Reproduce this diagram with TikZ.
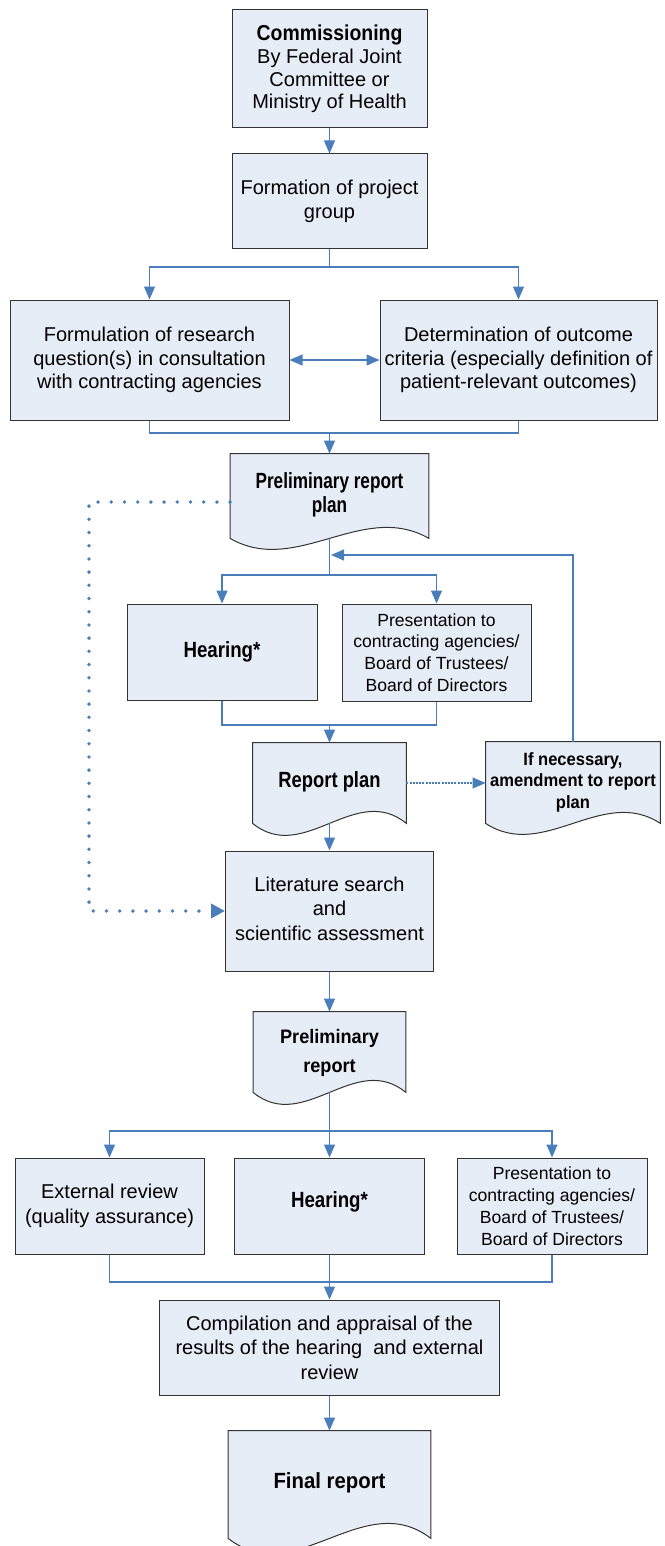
\documentclass[tikz,border=0pt]{standalone}
\usepackage{fontspec}
\setmainfont{Liberation Sans}
\usepackage{graphicx}
\usetikzlibrary{arrows.meta,calc,backgrounds}
\definecolor{boxfill}{HTML}{E7EDF7}
\definecolor{boxline}{HTML}{333333}
\definecolor{linecol}{HTML}{4A7EBB}
\newcommand\sqz[2]{\scalebox{#1}[1]{\begin{tabular}{@{}c@{}}#2\end{tabular}}}
\newcommand\docshape[2]{%
  \begin{pgfonlayer}{background}
  \filldraw[docdraw] (#1.south west) -- (#1.north west) -- (#1.north east) -- (#1.south east)
    .. controls ($(#1.south east)!1/3!(#1.south west)+(0,{-3.46*#2})$)
    and ($(#1.south east)!2/3!(#1.south west)+(0,{3.46*#2})$) .. (#1.south west) -- cycle;
  \end{pgfonlayer}}
\tikzset{
  box/.style={draw=boxline, fill=boxfill, line width=0.5pt, inner sep=0pt, align=center,
    font=\fontsize{10}{11.7}\selectfont},
  docnode/.style={draw=none, fill=none, inner sep=0pt, align=center},
  docdraw/.style={draw=boxline, fill=boxfill, line width=0.5pt},
  conn/.style={draw=linecol, line width=0.55pt},
  arr/.style={conn, -{Triangle[length=6.5pt,width=5.5pt]}},
  arrtwo/.style={conn, {Triangle[length=6.5pt,width=5.5pt]}-{Triangle[length=6.5pt,width=5.5pt]}},
  dotarr/.style={draw=linecol, line width=1.9pt, line cap=round, dash pattern=on 0pt off 6.6pt,
    -{Triangle[length=7pt,width=7pt]}},
  finedot/.style={dash pattern=on 1pt off 0.6pt}
}
\begin{document}
\begin{tikzpicture}[x=0.5pt,y=-0.5pt]
\useasboundingbox (0,0) rectangle (664,1546);
\clip (0,0) rectangle (664,1546);

% boxes
\node[box, minimum width=97.5pt, minimum height=59pt, font=\fontsize{10}{11.3}\selectfont] (comm) at (329.5,69)
  {\textbf{\fontsize{10.8}{11.3}\selectfont\scalebox{0.9}[1]{Commissioning}}\\By Federal Joint\\Committee or\\Ministry of Health};
\node[box, minimum width=97.5pt, minimum height=47.5pt] (form) at (329.5,201.5) {Formation of project\\group};
\node[box, minimum width=139.5pt, minimum height=60pt] (formq) at (149.5,360)
  {Formulation of research\\question(s) in consultation\\with contracting agencies};
\node[box, minimum width=138.5pt, minimum height=60pt] (deter) at (518.5,360)
  {Determination of outcome\\criteria (especially definition of\\patient-relevant outcomes)};

\node[docnode, minimum width=99pt, minimum height=42pt] (prp) at (329.5,496)
  {\raisebox{3pt}{\fontsize{11}{12}\selectfont\bfseries\sqz{0.78}{Preliminary report\\plan}}};
\docshape{prp}{11}

\node[box, minimum width=95pt, minimum height=48pt] (hear1) at (222,652)
  {\fontsize{11}{12}\selectfont\bfseries\scalebox{0.85}[1]{Hearing*}};
\node[box, minimum width=94.5pt, minimum height=48.5pt, font=\fontsize{8.8}{10.9}\selectfont] (pres1) at (436.5,652.5)
  {Presentation to\\contracting agencies/\\Board of Trustees/\\Board of Directors};

\node[docnode, minimum width=76.5pt, minimum height=40pt] (rp) at (329.5,783)
  {\raisebox{3pt}{\fontsize{11}{12}\selectfont\bfseries\scalebox{0.835}[1]{Report plan}}};
\docshape{rp}{12}

\node[docnode, minimum width=87pt, minimum height=40.5pt] (ifnec) at (573,782.5)
  {\raisebox{3pt}{\fontsize{8.9}{10.9}\selectfont\bfseries\sqz{0.93}{If necessary,\\amendment to report\\plan}}};
\docshape{ifnec}{11}

\node[box, minimum width=104pt, minimum height=60pt, font=\fontsize{10}{12.2}\selectfont] (lit) at (329.5,911)
  {\raisebox{6.5pt}{\sqz{1}{Literature search\\and\\scientific assessment}}};

\node[docnode, minimum width=76pt, minimum height=40pt] (prelim) at (329.5,1052)
  {\raisebox{4.25pt}{\fontsize{9.75}{14.5}\selectfont\bfseries\sqz{0.93}{Preliminary\\report}}};
\docshape{prelim}{12}

\node[box, minimum width=94.5pt, minimum height=48pt, font=\fontsize{10}{12.5}\selectfont] (ext) at (109.5,1206)
  {External review\\(quality assurance)};
\node[box, minimum width=95pt, minimum height=48pt] (hear2) at (329.5,1206)
  {\raisebox{6pt}{\fontsize{11}{12}\selectfont\bfseries\scalebox{0.85}[1]{Hearing*}}};
\node[box, minimum width=95pt, minimum height=48pt, font=\fontsize{8.8}{11}\selectfont] (pres2) at (552,1206)
  {Presentation to\\contracting agencies/\\Board of Trustees/\\Board of Directors};

\node[box, minimum width=170pt, minimum height=47.5pt, font=\fontsize{10}{12.2}\selectfont] (comp) at (329.5,1347.5)
  {Compilation and appraisal of the\\results of the hearing\ \ and external\\review};

\node[docnode, minimum width=101pt, minimum height=53.5pt] (final) at (329.5,1484.5)
  {\raisebox{3.75pt}{\fontsize{11}{12}\selectfont\bfseries\scalebox{0.925}[1]{Final report}}};
\docshape{final}{15}

% connectors
\draw[arr] (comm.south) -- (form.north);
\coordinate (j1) at (329.5,267);
\draw[conn] (form.south) -- (j1);
\draw[arr] (j1) -| (formq.north);
\draw[arr] (j1) -| (deter.north);
\draw[arrtwo] (formq.east) -- (deter.west);
\coordinate (j2) at (329.5,433);
\draw[conn] (formq.south) |- (j2);
\draw[conn] (deter.south) |- (j2);
\draw[arr] (j2) -- (prp.north);
\coordinate (j3) at (329.5,575);
\draw[conn] (prp.south) -- (j3);
\draw[arr] (j3) -| (hear1.north);
\draw[arr] (j3) -| (pres1.north);
\coordinate (j4) at (329.5,725);
\draw[conn] (hear1.south) |- (j4);
\draw[conn] (pres1.south) |- (j4);
\draw[arr] (j4) -- (rp.north);
\draw[arr, finedot] (rp.east) -- (rp.east -| ifnec.west);
\coordinate (j5) at (331,555);
\draw[arr] (ifnec.north) |- (j5);
\draw[arr] (rp.south) -- (lit.north);
\coordinate (dc) at (89,0);
\draw[dotarr] ([yshift=-3pt]prp.west) -| (dc |- lit.west) -- (lit.west);
\draw[arr] (lit.south) -- (prelim.north);
\coordinate (j6) at (329.5,1131);
\draw[conn] (prelim.south) -- (j6);
\draw[arr] (j6) -| (ext.north);
\draw[arr] (j6) -- (hear2.north);
\draw[arr] (j6) -| (pres2.north);
\coordinate (j7) at (329.5,1282);
\draw[conn] (ext.south) |- (j7);
\draw[conn] (pres2.south) |- (j7);
\draw[arr] (hear2.south) -- (comp.north);
\draw[arr] (comp.south) -- (final.north);
\end{tikzpicture}
\end{document}
